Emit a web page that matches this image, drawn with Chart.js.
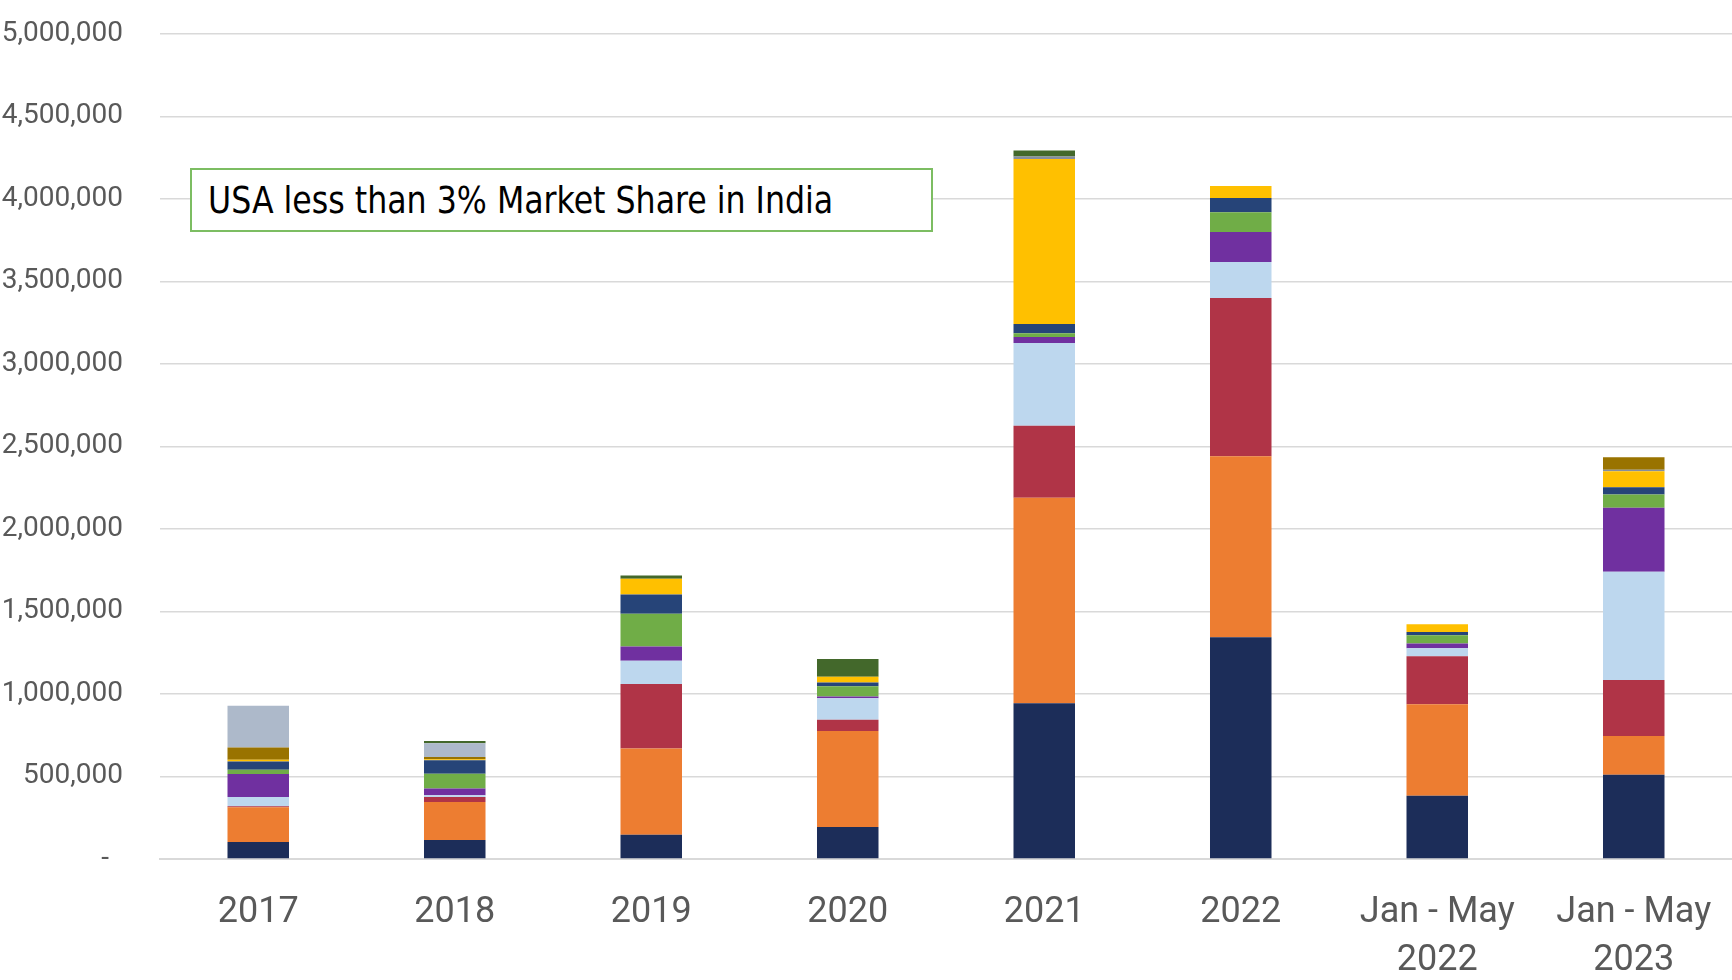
<!DOCTYPE html>
<html>
<head>
<meta charset="utf-8">
<script src="https://cdn.jsdelivr.net/npm/chart.js@4.4.0/dist/chart.umd.min.js"></script>
<style>
  body { margin: 0; background: #fff; }
  #wrap { position: relative; width: 1732px; height: 980px; overflow: hidden; }
  #chart { display: block; margin-top: -20px; }
  #note {
    position: absolute; left: 190px; top: 168px; width: 723px; height: 60px;
    border: 2px solid #7CBD62; background: #fff;
    font-family: "Liberation Sans Narrow", "DejaVu Sans Condensed", sans-serif;
    font-size: 38px; color: #000; line-height: 60px; padding-left: 16px; box-sizing: content-box;
    white-space: nowrap;
  }
  #note span { display: inline-block; transform: scaleX(0.925); transform-origin: left center; }
</style>
</head>
<body>
<div id="wrap">
  <canvas id="chart" width="1732" height="1000"></canvas>
  <div id="note"><span>USA less than 3% Market Share in India</span></div>
</div>
<script>
// categories (x axis)
const categories = ['2017', '2018', '2019', '2020', '2021', '2022', ['Jan - May', '2022'], ['Jan - May', '2023']];

// stacked series, bottom to top
const navy      = [103000, 115000, 147000, 194000, 943000, 1343000, 383000, 510000];
const orange    = [210000, 230000, 523000, 581000, 1246000, 1098000, 555000, 236000];
const red       = [6000, 30000, 390000, 68000, 436000, 958000, 291000, 339000];
const lightBlue = [57000, 12000, 141000, 131000, 502000, 218000, 48000, 656000];
const purple    = [139000, 40000, 87000, 10000, 36000, 182000, 28000, 387000];
const green     = [26000, 89000, 198000, 63000, 22000, 119000, 51000, 81000];
const darkBlue  = [50000, 83000, 117000, 22000, 56000, 87000, 20000, 44000];
const yellow    = [10000, 5000, 95000, 36000, 1001000, 73000, 47000, 97000];
const grey      = [0, 0, 0, 0, 15000, 0, 0, 8000];
const brown     = [75000, 14000, 0, 0, 0, 0, 0, 77000];
const steel     = [252000, 83000, 0, 0, 0, 0, 0, 0];
const darkGreen = [0, 14000, 20000, 107000, 36000, 0, 0, 0];

const yTicks = [0, 500000, 1000000, 1500000, 2000000, 2500000, 3000000, 3500000, 4000000, 4500000, 5000000];

const series = [
  ['Series 1', navy, '#1C2D59'],
  ['Series 2', orange, '#ED7D31'],
  ['Series 3', red, '#B03447'],
  ['Series 4', lightBlue, '#BDD7EE'],
  ['Series 5', purple, '#7030A0'],
  ['Series 6', green, '#70AD47'],
  ['Series 7', darkBlue, '#264478'],
  ['Series 8', yellow, '#FFC000'],
  ['Series 9', grey, '#858E9E'],
  ['Series 10', brown, '#997300'],
  ['Series 11', steel, '#ADB9CA'],
  ['Series 12', darkGreen, '#43682B']
];

const datasets = series.map(s => ({
  label: s[0],
  data: s[1],
  backgroundColor: s[2],
  borderWidth: 0,
  categoryPercentage: 1,
  barPercentage: 0.313
}));

new Chart(document.getElementById('chart'), {
  type: 'bar',
  data: { labels: categories, datasets: datasets },
  options: {
    responsive: false,
    animation: false,
    layout: { padding: 0 },
    plugins: { legend: { display: false }, tooltip: { enabled: false } },
    scales: {
      x: {
        stacked: true,
        afterFit: scale => {
          scale.height = 121;
          scale.paddingLeft = 0;
          scale.paddingRight = 0;
        },
        grid: { display: false, drawTicks: false },
        border: { color: '#D9D9D9', width: 2 },
        ticks: {
          color: '#595959',
          font: { family: 'Roboto', size: 36, lineHeight: 1.33 },
          padding: 30,
          maxRotation: 0
        }
      },
      y: {
        stacked: true,
        min: 0,
        max: 5000000,
        afterFit: scale => { scale.width = 160; },
        afterBuildTicks: scale => { scale.ticks = yTicks.map(v => ({ value: v })); },
        grid: { color: '#D9D9D9', lineWidth: 1.5, drawTicks: false },
        border: { display: false },
        ticks: {
          color: '#595959',
          font: { family: 'Roboto', size: 28 },
          padding: 37,
          callback: v => v === 0 ? '-\u00a0\u00a0' : v.toLocaleString('en-US')
        }
      }
    }
  }
});
</script>
</body>
</html>
